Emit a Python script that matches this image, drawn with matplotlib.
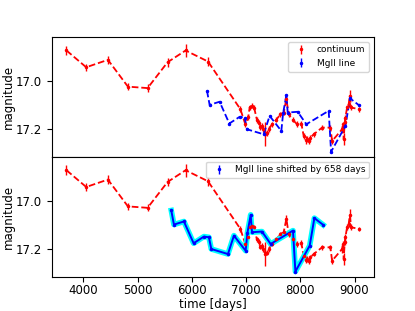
import numpy as np
import matplotlib
matplotlib.use("Agg")
import matplotlib.pyplot as plt

# continuum light curve
cont_t = [3690, 4054, 4454, 4823, 5185, 5554, 5886, 6299, 6896, 6987,
          7040, 7067, 7111, 7150, 7200, 7233, 7260, 7295, 7320, 7356,
          7390, 7417, 7480, 7560, 7633, 7694, 7744, 7786, 7860, 7941,
          8020, 8063, 8100, 8125, 8160, 8186, 8247, 8402, 8555, 8587,
          8771, 8790, 8801, 8820, 8832, 8863, 8893, 8912, 8937, 9078]
cont_m = [16.871, 16.941, 16.910, 17.022, 17.028, 16.920, 16.871, 16.917, 17.116, 17.179,
          17.150, 17.109, 17.102, 17.110, 17.160, 17.172, 17.190, 17.186, 17.200, 17.220,
          17.215, 17.200, 17.179, 17.160, 17.137, 17.130, 17.074, 17.137, 17.160, 17.179,
          17.176, 17.228, 17.245, 17.242, 17.250, 17.235, 17.221, 17.193, 17.193, 17.249,
          17.200, 17.180, 17.242, 17.170, 17.151, 17.109, 17.095, 17.060, 17.109, 17.116]
cont_e = [0.020, 0.015, 0.018, 0.015, 0.015, 0.018, 0.028, 0.018, 0.012, 0.012,
          0.010, 0.012, 0.010, 0.010, 0.012, 0.012, 0.012, 0.012, 0.012, 0.050,
          0.012, 0.012, 0.010, 0.010, 0.010, 0.010, 0.015, 0.012, 0.010, 0.012,
          0.012, 0.012, 0.015, 0.012, 0.012, 0.012, 0.010, 0.010, 0.010, 0.012,
          0.015, 0.012, 0.025, 0.012, 0.012, 0.012, 0.012, 0.025, 0.012, 0.010]

# MgII line light curve
mg_t = [6280, 6329, 6513, 6692, 6882, 6974, 7018, 7325, 7435, 7651,
        7683, 7744, 7768, 7952, 8112, 8524, 8568, 8832, 8918, 9079]
mg_m = [17.039, 17.098, 17.085, 17.176, 17.148, 17.151, 17.200, 17.221, 17.144, 17.207,
        17.134, 17.057, 17.130, 17.127, 17.179, 17.123, 17.294, 17.186, 17.071, 17.099]
mg_e = [0.004] * len(mg_t)

lag = 658

mg_shift = np.array(mg_t) - lag

fig, (ax1, ax2) = plt.subplots(2, 1, sharex=True, figsize=(4.15, 3.11), dpi=100)
fig.subplots_adjust(hspace=0)

ax1.plot(cont_t, cont_m, 'r--', lw=1.3)
ax1.errorbar(cont_t, cont_m, yerr=cont_e, fmt='r.', ms=3, elinewidth=1, label='continuum')
ax1.plot(mg_t, mg_m, 'b--', lw=1.3)
ax1.errorbar(mg_t, mg_m, yerr=mg_e, fmt='b.', ms=3, elinewidth=1, label='MgII line')
ax1.legend(loc='upper right', fontsize=6.5)

ax2.plot(cont_t, cont_m, 'r--', lw=1.3)
ax2.errorbar(cont_t, cont_m, yerr=cont_e, fmt='r.', ms=3, elinewidth=1)
ax2.plot(mg_shift, mg_m, color='cyan', lw=4)
ax2.plot(mg_shift, mg_m, 'b-', lw=1.4)
ax2.errorbar(mg_shift, mg_m, yerr=mg_e, fmt='b.', ms=3, elinewidth=1,
             label='MgII line shifted by %d days' % lag)
ax2.legend(loc='upper right', fontsize=6.5)

for ax in (ax1, ax2):
    ax.set_ylim(17.316, 16.816)
    ax.set_yticks([17.0, 17.2])
    ax.set_ylabel('magnitude', fontsize=8.5, labelpad=1)
    ax.tick_params(labelsize=8.5)
ax2.tick_params(axis='x', pad=2)
ax2.set_xlim(3421, 9350)
ax2.set_xlabel('time [days]', fontsize=8.5, labelpad=0.5)

plt.savefig('out.png')
